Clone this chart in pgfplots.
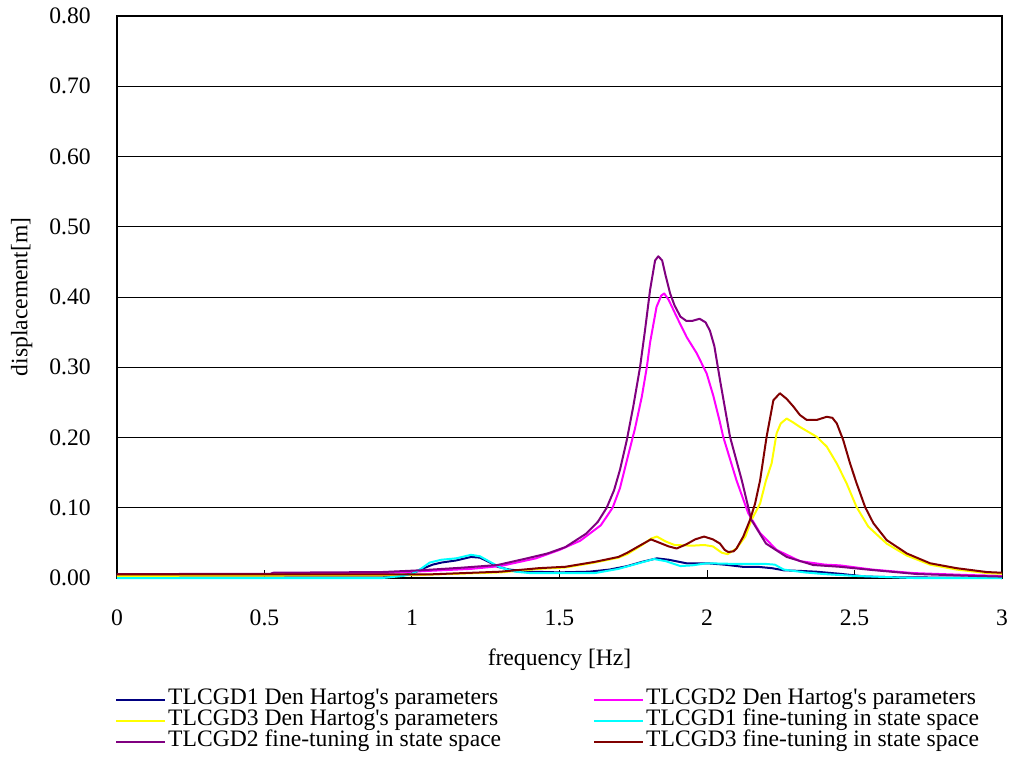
\documentclass[border=0pt]{standalone}
\usepackage{fontspec}
\setmainfont{Liberation Serif}
% plain family without TeX ligatures, so ' stays a straight quote
\newfontfamily\chartfont{Liberation Serif}
\usepackage{pgfplots}
\pgfplotsset{compat=1.18}

\definecolor{sNavy}{RGB}{0,0,128}
\definecolor{sMagenta}{RGB}{255,0,255}
\definecolor{sYellow}{RGB}{255,255,0}
\definecolor{sCyan}{RGB}{0,255,255}
\definecolor{sPurple}{RGB}{128,0,128}
\definecolor{sMaroon}{RGB}{128,0,0}

\begin{document}
\begin{tikzpicture}[font=\chartfont\fontsize{17.7pt}{20pt}\selectfont]
\useasboundingbox (-87.75pt,-135pt) rectangle (673.5pt,433.5pt);
\begin{axis}[
  at={(0pt,0pt)}, anchor=south west,
  scale only axis,
  width=663.75pt, height=421.5pt,
  xmin=0, xmax=3, ymin=0, ymax=0.8,
  xtick={0,0.5,...,3},
  ytick={0,0.1,...,0.8},
  /pgf/number format/assume math mode=true,
  xtick pos=left, tick align=inside,
  major tick length=6pt,
  ytick style={draw=none},
  xtick style={black, line width=0.75pt},
  xticklabel style={inner sep=0pt, anchor=north, yshift=-23.5pt},
  yticklabel style={inner sep=0pt, anchor=east, xshift=-19.5pt,
    /pgf/number format/.cd, fixed, fixed zerofill, precision=2},
  ymajorgrids,
  grid style={black, line width=0.75pt},
  axis line style={black, line width=1.2pt},
  clip=false,
  xlabel={frequency [Hz]},
  ylabel={displacement[m]},
  every axis x label/.style={at={(axis description cs:0.5,-0.1459)}, anchor=center, inner sep=0pt},
  every axis y label/.style={at={(axis description cs:-0.1077,0.5)}, rotate=90, anchor=center, inner sep=0pt},
  legend columns=2,
  legend cell align=left,
  legend image code/.code={\draw[#1] (0pt,0pt) -- (36.75pt,0pt);},
  legend style={
    draw=none, fill=none,
    at={(axis description cs:-0.0068,-0.193)}, anchor=north west,
    nodes={inner sep=0pt, text height=11pt, text depth=4.75pt},
    /tikz/column 1/.style={column sep=1.5pt},
    /tikz/column 2/.style={column sep=69pt},
    /tikz/column 3/.style={column sep=1.5pt},
  },
  every axis plot/.append style={line width=1.5pt, line join=round},
]
% TLCGD1, Den Hartog's parameters
\addplot[sNavy] coordinates {
(0,0.001) (0.90,0.001) (0.95,0.003) (1.00,0.006) (1.04,0.014) (1.07,0.019)
(1.10,0.022) (1.15,0.025) (1.20,0.030) (1.23,0.029) (1.26,0.023) (1.29,0.016)
(1.33,0.012) (1.40,0.009) (1.50,0.008) (1.60,0.009) (1.67,0.012) (1.73,0.017)
(1.78,0.023) (1.83,0.028) (1.87,0.026) (1.93,0.021) (2.00,0.021) (2.06,0.019)
(2.12,0.016) (2.17,0.016) (2.22,0.014) (2.26,0.011) (2.32,0.010) (2.37,0.009)
(2.45,0.006) (2.54,0.002) (2.65,0.001) (3.00,0.000)};
\addlegendentry{TLCGD1 Den Hartog's parameters}
% TLCGD2, Den Hartog's parameters
\addplot[sMagenta] coordinates {
(0,0.004) (0.50,0.005) (0.90,0.007) (1.00,0.009) (1.20,0.013) (1.30,0.017)
(1.42,0.028) (1.50,0.040) (1.57,0.053) (1.64,0.075) (1.68,0.100) (1.705,0.128)
(1.73,0.170) (1.756,0.213) (1.779,0.258) (1.796,0.300) (1.807,0.335)
(1.829,0.386) (1.845,0.402) (1.855,0.405) (1.870,0.396) (1.897,0.372)
(1.931,0.343) (1.965,0.320) (1.999,0.291) (2.021,0.260) (2.042,0.225)
(2.055,0.201) (2.10,0.139) (2.14,0.092) (2.18,0.064) (2.236,0.040)
(2.315,0.024) (2.40,0.019) (2.45,0.018) (2.56,0.012) (2.70,0.007)
(2.90,0.004) (3.00,0.003)};
\addlegendentry{TLCGD2 Den Hartog's parameters}
% TLCGD3, Den Hartog's parameters
\addplot[sYellow] coordinates {
(0,0.003) (1.00,0.004) (1.30,0.008) (1.43,0.013) (1.52,0.015) (1.62,0.022)
(1.70,0.029) (1.73,0.034) (1.78,0.047) (1.81,0.056) (1.83,0.059) (1.86,0.052)
(1.89,0.047) (1.95,0.046) (1.99,0.047) (2.02,0.045) (2.05,0.036) (2.07,0.034)
(2.10,0.042) (2.13,0.059) (2.15,0.082) (2.18,0.106) (2.20,0.139) (2.219,0.163)
(2.236,0.206) (2.25,0.220) (2.27,0.227) (2.29,0.222) (2.315,0.215)
(2.372,0.201) (2.406,0.187) (2.44,0.163) (2.473,0.135) (2.507,0.101)
(2.547,0.073) (2.609,0.049) (2.677,0.032) (2.756,0.019) (2.846,0.012)
(2.95,0.007) (3.00,0.006)};
\addlegendentry{TLCGD3 Den Hartog's parameters}
% TLCGD1, fine-tuning in state space
\addplot[sCyan] coordinates {
(0,0.000) (0.90,0.000) (0.97,0.003) (1.00,0.006) (1.03,0.013) (1.06,0.022)
(1.10,0.026) (1.15,0.028) (1.20,0.033) (1.23,0.031) (1.26,0.024) (1.30,0.015)
(1.35,0.009) (1.40,0.007) (1.50,0.007) (1.62,0.007) (1.70,0.013) (1.76,0.020)
(1.82,0.027) (1.86,0.024) (1.91,0.017) (1.95,0.018) (2.00,0.021) (2.10,0.020)
(2.20,0.020) (2.23,0.019) (2.26,0.012) (2.33,0.008) (2.40,0.0055)
(2.50,0.003) (2.60,0.0015) (2.70,0.000) (3.00,0.000)};
\addlegendentry{TLCGD1 fine-tuning in state space}
% TLCGD2, fine-tuning in state space
\addplot[sPurple] coordinates {
(0,0.0055) (0.52,0.0060) (0.53,0.0075) (0.90,0.0085) (1.03,0.011)
(1.17,0.0147) (1.29,0.0185) (1.39,0.028) (1.46,0.035) (1.52,0.044)
(1.59,0.063) (1.63,0.080) (1.66,0.100) (1.685,0.125) (1.705,0.154)
(1.728,0.196) (1.75,0.244) (1.773,0.300) (1.79,0.353) (1.807,0.410)
(1.824,0.452) (1.835,0.458) (1.848,0.452) (1.86,0.430) (1.875,0.405)
(1.89,0.388) (1.91,0.372) (1.93,0.366) (1.95,0.366) (1.975,0.369)
(1.995,0.364) (2.01,0.352) (2.025,0.330) (2.044,0.282) (2.078,0.201)
(2.118,0.139) (2.15,0.083) (2.20,0.049) (2.27,0.030) (2.36,0.0185)
(2.45,0.016) (2.56,0.0114) (2.71,0.0057) (2.90,0.003) (3.00,0.002)};
\addlegendentry{TLCGD2 fine-tuning in state space}
% TLCGD3, fine-tuning in state space
\addplot[sMaroon] coordinates {
(0,0.005) (1.05,0.005) (1.30,0.009) (1.43,0.014) (1.52,0.016) (1.62,0.023)
(1.70,0.030) (1.73,0.036) (1.78,0.048) (1.81,0.055) (1.84,0.050) (1.87,0.045)
(1.897,0.042) (1.93,0.048) (1.96,0.055) (1.99,0.059) (2.02,0.055)
(2.044,0.049) (2.06,0.040) (2.072,0.037) (2.09,0.038) (2.10,0.042)
(2.123,0.059) (2.146,0.083) (2.163,0.106) (2.18,0.139) (2.202,0.201)
(2.225,0.253) (2.247,0.263) (2.27,0.255) (2.293,0.244) (2.315,0.232)
(2.338,0.225) (2.372,0.225) (2.406,0.2295) (2.425,0.228) (2.44,0.220)
(2.462,0.196) (2.485,0.163) (2.507,0.135) (2.536,0.101) (2.564,0.078)
(2.609,0.054) (2.677,0.035) (2.756,0.021) (2.846,0.014) (2.948,0.0085)
(3.00,0.0075)};
\addlegendentry{TLCGD3 fine-tuning in state space}
\end{axis}
\end{tikzpicture}
\end{document}
